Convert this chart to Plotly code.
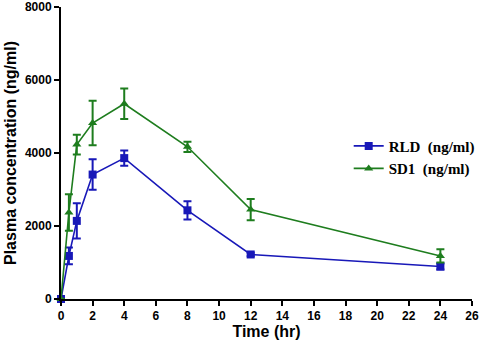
import plotly.graph_objects as go

time_hr = [0, 0.5, 1, 2, 4, 8, 12, 24]
rld_mean = [0, 1180, 2140, 3410, 3860, 2430, 1220, 890]
rld_err = [0, 230, 480, 420, 210, 250, 50, 80]
sd1_mean = [0, 2370, 4230, 4820, 5350, 4170, 2450, 1180]
sd1_err = [0, 500, 270, 610, 420, 140, 290, 180]
x_ticks = list(range(0, 27, 2))
y_ticks = [0, 2000, 4000, 6000, 8000]

blue = "#1818b8"
green = "#1e7d1e"

fig = go.Figure()
fig.add_trace(go.Scatter(
    x=time_hr, y=rld_mean, name="<b>RLD&nbsp; (ng/ml)</b>", mode="lines+markers",
    line=dict(color=blue, width=1.6),
    marker=dict(symbol="square", size=8, color=blue),
    error_y=dict(type="data", array=rld_err, color=blue, thickness=2, width=4),
))
fig.add_trace(go.Scatter(
    x=time_hr, y=sd1_mean, name="<b>SD1&nbsp; (ng/ml)</b>", mode="lines+markers",
    line=dict(color=green, width=1.6),
    marker=dict(symbol="triangle-up", size=8, color=green),
    error_y=dict(type="data", array=sd1_err, color=green, thickness=2, width=4),
))

tick_font = dict(family="Liberation Sans, Arial", size=12, color="black", weight="bold")
title_font = dict(family="Liberation Sans, Arial", size=16, color="black")
fig.update_layout(
    width=487, height=345,
    margin=dict(l=61, r=9, t=7, b=46),
    plot_bgcolor="white", paper_bgcolor="white",
    showlegend=True,
    legend=dict(
        x=0.70, y=0.58, xanchor="left", yanchor="top",
        font=dict(family="Liberation Serif, Times New Roman", size=15, color="black"),
        bgcolor="rgba(0,0,0,0)", tracegroupgap=0, itemwidth=30,
    ),
    xaxis=dict(
        range=[0, 26], tickvals=x_ticks, ticktext=[str(v) for v in x_ticks],
        showline=True, linecolor="black", linewidth=2, showgrid=False, zeroline=False,
        ticks="outside", ticklen=5, tickwidth=2, tickcolor="black", automargin=False,
        tickfont=tick_font,
        title=dict(text="<b>Time (hr)</b>", font=title_font, standoff=0),
    ),
    yaxis=dict(
        range=[0, 8000], tickvals=y_ticks, ticktext=[str(v) for v in y_ticks],
        showline=True, linecolor="black", linewidth=2, showgrid=False, zeroline=False,
        ticks="outside", ticklen=5, tickwidth=2, tickcolor="black", automargin=False,
        tickfont=tick_font,
        title=dict(text="<b>Plasma concentration (ng/ml)</b>", font=title_font, standoff=4),
    ),
)
fig.update_traces(cliponaxis=False)
fig.write_html(
    "out.html",
    config={"displayModeBar": False},
    post_script="document.body.style.margin='0';document.body.style.padding='0';",
)
